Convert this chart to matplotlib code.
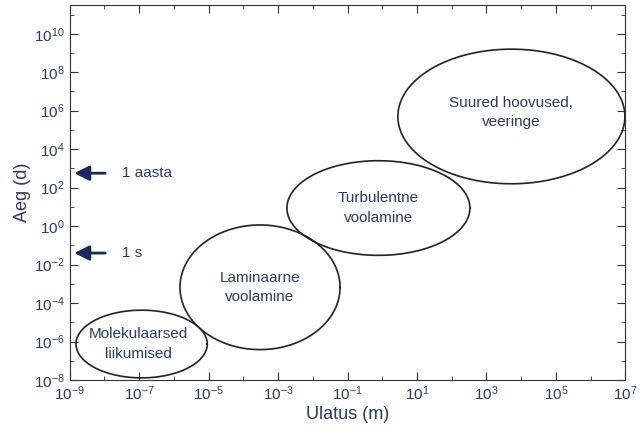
import numpy as np
import matplotlib
matplotlib.use("Agg")
import matplotlib.pyplot as plt
plt.rcParams['font.family'] = ['Liberation Sans', 'DejaVu Sans']

# ellipses in log10 units: centre x, centre y, width (decades), height (decades)
labels = ["Molekulaarsed\nliikumised", "Laminaarne\nvoolamine", "Turbulentne\nvoolamine", "Suured hoovused,\nveeringe"]
cx = [-6.93, -3.52, -0.11, 3.72]
cy = [-6.13, -3.18, 0.94, 5.70]
wx = [3.78, 4.61, 5.27, 6.54]
hy = [3.52, 6.48, 4.92, 7.0]
text_dx = [-0.1, 0.0, 0.0, 0.0]
text_dy = [0.0, 0.0, 0.0, 0.2]

arrow_labels = ["1 aasta", "1 s"]
arrow_y = [10**2.75, 10**-1.4]

col = "#2b3a66"
fig = plt.figure(figsize=(6.4, 4.46), dpi=100)
ax = fig.add_axes([0.109, 0.148, 0.868, 0.841])
ax.set_xscale("log"); ax.set_yscale("log")
ax.set_xlim(1e-9, 1e7); ax.set_ylim(1e-8, 10**11.5)

t = np.linspace(0, 2*np.pi, 400)
for l, x, y, w, h, dx, dy in zip(labels, cx, cy, wx, hy, text_dx, text_dy):
    ax.plot(10**(x + w/2*np.cos(t)), 10**(y + h/2*np.sin(t)), color="#222233", lw=1.2)
    ax.text(10**(x+dx), 10**(y+dy), l, ha="center", va="center", fontsize=11, color=col, linespacing=1.5)

for l, y in zip(arrow_labels, arrow_y):
    ax.annotate("", xy=(10**-8.95, y), xytext=(10**-7.9, y),
                arrowprops=dict(arrowstyle="-|>,head_length=0.9,head_width=0.45", color="#1a2a5a", lw=2))
    ax.text(10**-7.5, y, l, va="center", ha="left", fontsize=11, color=col)

ax.set_xticks([10.0**k for k in range(-9, 8, 2)])
ax.set_yticks([10.0**k for k in range(-8, 11, 2)])
ax.xaxis.set_minor_locator(matplotlib.ticker.LogLocator(base=10, subs=[1.0], numticks=30))
ax.yaxis.set_minor_locator(matplotlib.ticker.LogLocator(base=10, subs=[1.0], numticks=30))
ax.xaxis.set_minor_formatter(matplotlib.ticker.NullFormatter())
ax.yaxis.set_minor_formatter(matplotlib.ticker.NullFormatter())
ax.tick_params(which="both", direction="in", top=True, right=True, colors="#333333", labelcolor=col, labelsize=11)
ax.tick_params(which="major", length=6)
ax.tick_params(which="minor", length=3)
for s in ax.spines.values():
    s.set_color("#333333")
ax.set_xlabel("Ulatus (m)", fontsize=13, color=col, labelpad=2)
ax.set_ylabel("Aeg (d)", fontsize=13, color=col, labelpad=2)
fig.savefig("out.png", dpi=100)
